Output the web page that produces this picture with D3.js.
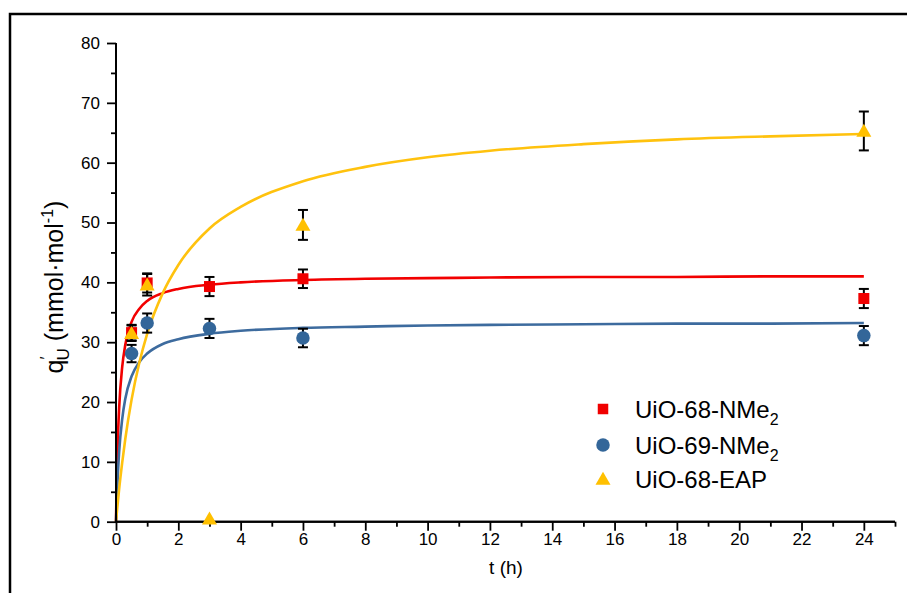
<!DOCTYPE html>
<html><head><meta charset="utf-8">
<script src="https://cdn.jsdelivr.net/npm/d3@7"></script>
<style>
body{margin:0;background:#fff}
svg{display:block}
text{font-family:"Liberation Sans",Arial,sans-serif;fill:#000}
</style>
</head><body><svg id="c" width="907" height="593"></svg>
<script>
// ---- data ----
const times = [0.5, 1, 3, 6, 24];
const seriesNames = ["UiO-68-NMe", "UiO-69-NMe", "UiO-68-EAP"];
const seriesSubs = ["2", "2", ""];
const nme68 = [31.6, 39.9, 39.3, 40.6, 37.3];
const nme68Err = [1.3, 1.6, 1.6, 1.55, 1.6];
const nme69 = [28.1, 33.2, 32.3, 30.7, 31.1];
const nme69Err = [1.45, 1.6, 1.6, 1.55, 1.6];
const eap = [31.5, 39.6, 0.5, 49.6, 65.3];
const eapErr = [1.3, 1.8, 0, 2.5, 3.25];
// fitted curves
const fitT   = [0, 0.02, 0.05, 0.1, 0.2, 0.3, 0.5, 0.75, 1, 1.5, 2, 3, 4, 6, 8, 10, 12, 15, 18, 21, 24];
const fit68  = [0, 6.0, 12.3, 18.9, 25.9, 29.6, 33.4, 35.6, 36.9, 38.2, 38.9, 39.6, 40.0, 40.4, 40.6, 40.7, 40.8, 40.9, 40.9, 41.0, 41.0];
const fit69  = [0, 3.2, 7.0, 11.6, 17.2, 20.6, 24.3, 26.7, 28.1, 29.7, 30.5, 31.4, 31.9, 32.4, 32.6, 32.8, 32.9, 33.0, 33.1, 33.1, 33.2];
const fitEAP = [0, 1.2, 2.8, 5.4, 9.9, 13.9, 20.4, 26.6, 31.4, 38.2, 42.9, 49.0, 52.6, 56.9, 59.3, 60.9, 62.0, 63.1, 63.9, 64.4, 64.8];
const xTicks = [0, 2, 4, 6, 8, 10, 12, 14, 16, 18, 20, 22, 24];
const yTicks = [0, 10, 20, 30, 40, 50, 60, 70, 80];

// ---- drawing ----
const svg = d3.select("#c");
const x = d3.scaleLinear().domain([0, 25]).range([116, 895]);
const y = d3.scaleLinear().domain([0, 80]).range([521.7, 43]);

const colors = { red: "#f00000", blue: "#336699", yellow: "#ffc000" };
const lineColors = { red: "#f20000", blue: "#3d6b9e", yellow: "#ffc20e" };

// outer frame
svg.append("rect").attr("x", 10).attr("y", 14).attr("width", 1000).attr("height", 1000)
  .attr("fill", "none").attr("stroke", "#000").attr("stroke-width", 2.5);

// fit curves
const line = d3.line().x(d => x(d[0])).y(d => y(d[1])).curve(d3.curveMonotoneX);
const fits = [[fit68, lineColors.red], [fit69, lineColors.blue], [fitEAP, lineColors.yellow]];
fits.forEach(([vals, col]) => {
  svg.append("path").datum(fitT.map((t, i) => [t, vals[i]]))
    .attr("d", line).attr("fill", "none").attr("stroke", col).attr("stroke-width", 2.6);
});

// axes
const gx = svg.append("g").attr("transform", `translate(0,${y(0)})`)
  .call(d3.axisBottom(x).tickValues(xTicks).tickSize(9).tickPadding(2).tickFormat(d3.format("d")));
const gxm = svg.append("g").attr("transform", `translate(0,${y(0)})`)
  .call(d3.axisBottom(x).tickValues(d3.range(1, 26, 2)).tickSize(5).tickFormat(""));
const gy = svg.append("g").attr("transform", `translate(${x(0)},0)`)
  .call(d3.axisLeft(y).tickValues(yTicks).tickSize(9).tickPadding(7).tickFormat(d3.format("d")));
const gym = svg.append("g").attr("transform", `translate(${x(0)},0)`)
  .call(d3.axisLeft(y).tickValues(d3.range(5, 80, 10)).tickSize(5).tickFormat(""));
[gx, gxm, gy, gym].forEach(g => {
  g.select(".domain").attr("stroke", "#000").attr("stroke-width", 2);
  g.selectAll(".tick line").attr("stroke", "#000").attr("stroke-width", 1.8);
  g.selectAll(".tick text").attr("font-size", 17).attr("font-family", '"Liberation Sans",Arial,sans-serif');
});
gx.select(".domain").attr("d", `M${x(0)},0H${x(25)}`);
gxm.select(".domain").attr("d", `M${x(0)},0H${x(25)}`);
gy.select(".domain").attr("d", `M0,${y(80)}V${y(0)}`);
gym.select(".domain").attr("d", `M0,${y(80)}V${y(0)}`);

// markers
function marker(g, type, cx, cy, col, s) {
  if (type === "square") {
    g.append("rect").attr("x", cx - s / 2).attr("y", cy - s / 2).attr("width", s).attr("height", s).attr("fill", col);
  } else if (type === "circle") {
    g.append("circle").attr("cx", cx).attr("cy", cy).attr("r", s / 2).attr("fill", col);
  } else {
    const h = s * 0.87;
    g.append("path").attr("d", `M${cx},${cy - h * 0.55}L${cx + s / 2},${cy + h * 0.45}L${cx - s / 2},${cy + h * 0.45}Z`).attr("fill", col);
  }
}

const sets = [
  { vals: nme68, err: nme68Err, type: "square", col: colors.red, s: 11 },
  { vals: nme69, err: nme69Err, type: "circle", col: colors.blue, s: 13.5 },
  { vals: eap, err: eapErr, type: "triangle", col: colors.yellow, s: 15 }
];
const gE = svg.append("g");
const gM = svg.append("g");
sets.forEach(st => {
  times.forEach((t, i) => {
    const v = st.vals[i], e = st.err[i];
    if (e > 0) {
      const px = x(t), y1 = y(v + e), y2 = y(v - e);
      gE.append("line").attr("x1", px).attr("x2", px).attr("y1", y1).attr("y2", y2).attr("stroke", "#000").attr("stroke-width", 2);
      [y1, y2].forEach(yy => gE.append("line").attr("x1", px - 5).attr("x2", px + 5).attr("y1", yy).attr("y2", yy).attr("stroke", "#000").attr("stroke-width", 2));
    }
    marker(gM, st.type, x(t), y(v), st.col, st.s);
  });
});

// axis titles
svg.append("text").attr("x", 506).attr("y", 574).attr("text-anchor", "middle").attr("font-size", 19).text("t (h)");
const yl = svg.append("text").attr("transform", "translate(63,287) rotate(-90)").attr("text-anchor", "middle").attr("font-size", 25);
yl.append("tspan").text("q");
yl.append("tspan").attr("font-size", 16).attr("dy", -11).text("′");
yl.append("tspan").attr("font-size", 17).attr("dx", -4).attr("dy", 17).text("U");
yl.append("tspan").attr("dy", -6).text(" (mmol·mol");
yl.append("tspan").attr("font-size", 16).attr("dy", -10).text("-1");
yl.append("tspan").attr("dy", 10).text(")");

// legend
const legRows = [409, 445, 479];
const legTypes = [["square", colors.red, 10.5], ["circle", colors.blue, 13.5], ["triangle", colors.yellow, 15]];
seriesNames.forEach((name, i) => {
  marker(svg, legTypes[i][0], 603, legRows[i], legTypes[i][1], legTypes[i][2]);
  const tx = svg.append("text").attr("x", 635).attr("y", legRows[i] + 8.5).attr("font-size", 24);
  tx.append("tspan").text(name);
  if (seriesSubs[i]) tx.append("tspan").attr("font-size", 16).attr("dy", 7).text(seriesSubs[i]);
});
</script>
</body></html>
